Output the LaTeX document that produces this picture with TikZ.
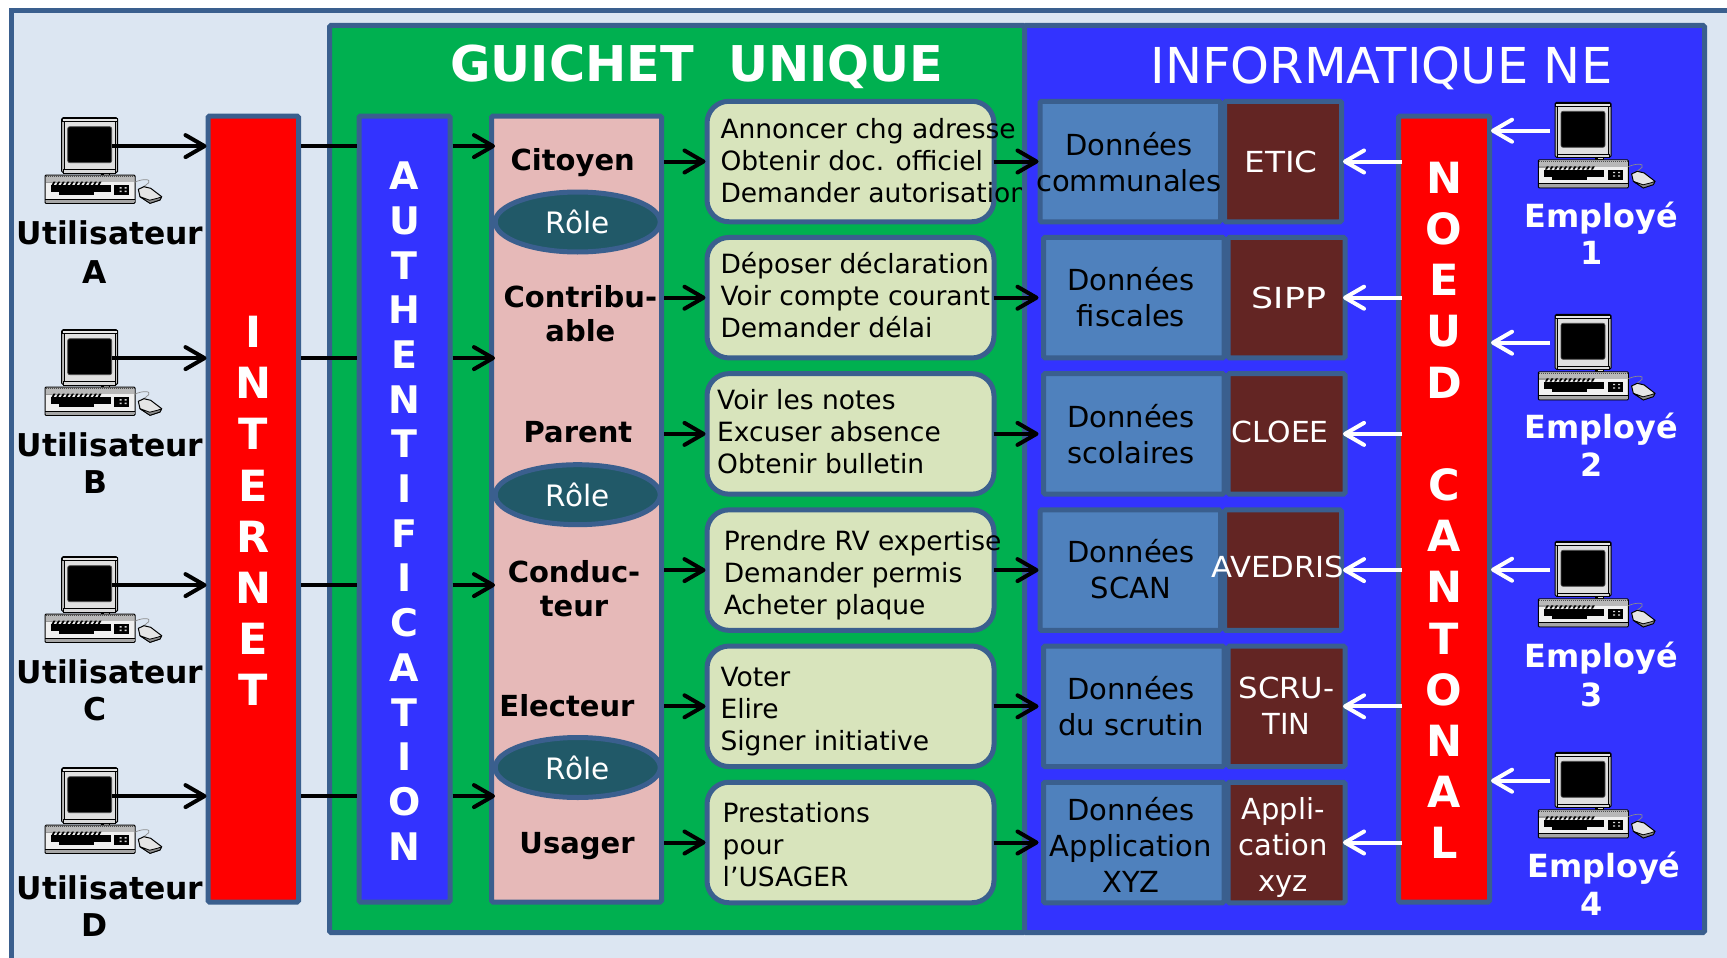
\documentclass[tikz,border=0pt]{standalone}
\usepackage{graphicx}
\usepackage{fontspec}
\setmainfont{DejaVu Sans}
\usetikzlibrary{arrows.meta,shapes.geometric,calc}
\definecolor{bd}{HTML}{3A5F8E}
\definecolor{pagebg}{HTML}{DCE6F2}
\definecolor{gr}{HTML}{00B050}
\definecolor{bl}{HTML}{3333FF}
\definecolor{pinkc}{HTML}{E6B9B8}
\definecolor{palec}{HTML}{D8E4BC}
\definecolor{steel}{HTML}{4F81BD}
\definecolor{brownc}{HTML}{632523}
\definecolor{tealc}{HTML}{215968}
\newcommand{\fs}[2]{\fontsize{#1}{#2}\selectfont}
\tikzset{
  x=1pt,y=-1pt,
  panel/.style={draw=bd,line width=5pt,inner sep=0pt,rounded corners=1.5pt},
  col/.style={panel,minimum height=786pt},
  coltxt/.style={inner sep=0pt,align=center,text=white,font=\fs{43}{51.2}\bfseries},
  actbox/.style={panel,fill=palec,minimum width=287pt,minimum height=120.5pt,rounded corners=22pt},
  actxt/.style={anchor=west,align=left,inner sep=0pt,font=\fs{26.5}{32}},
  dleft/.style={panel,fill=steel,minimum width=180.5pt,minimum height=120.5pt},
  dright/.style={panel,fill=brownc,minimum width=117pt,minimum height=120.5pt},
  dtxt/.style={align=center,inner sep=0pt,font=\fs{29}{36}},
  wtxt/.style={dtxt,text=white},
  roletxt/.style={align=center,inner sep=0pt,font=\fs{29}{34}\bfseries},
  roleell/.style={ellipse,draw=bd,line width=5pt,fill=tealc,minimum width=165pt,minimum height=60pt,inner sep=0pt,text=white,font=\fs{29.5}{34}},
  who/.style={inner sep=0pt,font=\fs{31.4}{38}\bfseries},
  emp/.style={inner sep=0pt,text=white,font=\fs{31.9}{36}\bfseries},
  arr/.style={line width=4pt,-{Straight Barb[length=19pt,width=22pt,round]},shorten >=-1pt},
  warr/.style={arr,draw=white},
  plain/.style={line width=4pt},
  computer/.pic={
    % monitor
    \draw[line width=1pt,fill=black!25,rounded corners=1.5pt] (0,0) rectangle (56,55);
    \draw[line width=0.6pt,fill=white!90!black] (0.7,0.7) rectangle (55.3,4);
    \draw[line width=0.5pt,fill=black!12] (2.5,4) rectangle (53.5,52);
    \node[fill=black,draw=black!70,line width=0.7pt,rounded corners=2pt,minimum width=44pt,minimum height=36pt,inner sep=0pt] (-screen) at (28,27) {};
    \draw[line width=0.8pt,fill=black!15] (2,52) rectangle (54,55.5);
    \fill[black] (39.5,55.3) rectangle (42,57.5);
    \draw[line width=0.8pt,fill=black!15] (42,55.3) rectangle (48,57.5);
    \coordinate (-out) at (50,28.4);
    \coordinate (-left) at (-5,28.4);
    % keyboard
    \draw[line width=1pt,fill=black!6,rounded corners=1pt] (-16.7,57.5) rectangle (73.3,85.6);
    \fill[black!28] (-16,58.5) rectangle (72.6,64.5);
    \draw[line width=0.4pt,black!70,dash pattern=on 1pt off 1pt] (-16,58.6) -- (72.6,58.6);
    \fill[black!40] (-16,64) rectangle (38,65.5);
    \foreach \k in {0,...,10}{\fill[black] ({-10+4.6*\k},67.2) -- ++(1.8,-3.2) -- ++(2,0) -- ++(-1.8,3.2) -- cycle;}
    \fill[black] (-11,67.2) rectangle (49,74.6);
    \fill[black] (-3,74.6) rectangle (32,77.6);
    \fill[black] (52.6,67.2) rectangle (67.6,77.6);
    \fill[white!85!black] (58,69.5) rectangle (60,70.8) (63,69.5) rectangle (65,70.8) (58,73) rectangle (60,74.3) (63,73) rectangle (65,74.3);
    \draw[line width=1pt] (-16.7,81.6) -- (73.3,81.6);
    \fill[black!35] (-16,82.1) rectangle (72.6,84.8);
    % cable and mouse
    \draw[line width=0.7pt,black!45] (73.3,64.5) .. controls (80,61) and (90,61) .. (87,65) .. controls (86,67) and (83,67.5) .. (81,69.5);
    \draw[line width=1pt,fill=black!10,line join=round] (76.6,71.6) -- (82.3,69) -- (89,70.6) -- (100,79) -- (98.3,82.3) -- (88.3,85.6) -- (78.3,79) -- cycle;
    \draw[line width=0.8pt,fill=black!45,line join=round] (78.3,79) -- (88.3,85.6) -- (98.3,82.3) -- (100,79) -- (96,80.5) -- (88,82.5) -- cycle;
  }
}
\begin{document}
\begin{tikzpicture}
\useasboundingbox (0,0) rectangle (1727,958);
\fill[white] (0,0) rectangle (1727,958);
% page panel, running off the right and bottom edges
\fill[pagebg] (11.5,10.5) rectangle (1727,958);
\draw[bd,line width=5pt] (11.5,958) -- (11.5,10.5) -- (1727,10.5);

% green panel
\node[panel,fill=gr,minimum width=695pt,minimum height=907pt] (guichet) at (677,479) {};
\node[inner sep=0pt,text=white,font=\fs{49.3}{50}\bfseries] (tguichet) at (697,66.5) {GUICHET\ \ UNIQUE};

% columns
\node[col,fill=red,minimum width=90.5pt] (internet) at (253.25,509) {};
\node[coltxt] (tinternet) at (253.25,511) {I\\N\\T\\E\\R\\N\\E\\T};
\node[col,fill=bl,minimum width=91pt] (auth) at (404.5,509) {};
\node[coltxt,font=\fs{38}{44.7}\bfseries] (tauth) at (404.5,511) {A\\U\\T\\H\\E\\N\\T\\I\\F\\I\\C\\A\\T\\I\\O\\N};
\node[col,fill=pinkc,minimum width=170pt] (roles) at (576.5,509) {};

% role names
\node[roletxt] (r1) at (572.7,163) {Citoyen};
\node[roletxt] (r2) at (580.4,314) {Contribu-\\able};
\node[roletxt] (r3) at (578,431.7) {Parent};
\node[roletxt] (r4) at (574,588.5) {Conduc-\\teur};
\node[roletxt] (r5) at (567,705.5) {Electeur};
\node[roletxt] (r6) at (577,845.8) {Usager};
\node[roleell] (e1) at (577.7,222) {Rôle};
\node[roleell] (e2) at (577.7,494.7) {Rôle};
\node[roleell] (e3) at (577.7,767.5) {Rôle};

% action boxes
\node[actbox] (a1) at (850.5,161.5) {};
\node[actbox] (a2) at (850.5,297.7) {};
\node[actbox] (a3) at (850.5,433.9) {};
\node[actbox] (a4) at (850.5,570.1) {};
\node[actbox] (a5) at (850.5,706.3) {};
\node[actbox] (a6) at (850.5,842.5) {};
\node[actxt] (t1) at (720.3,160.2) {Annoncer chg adresse\\Obtenir doc. officiel\\Demander autorisation};
\node[actxt] (t2) at (720.3,295.3) {Déposer déclaration\\Voir compte courant\\Demander délai};
\node[actxt] (t3) at (717,431.9) {Voir les notes\\Excuser absence\\Obtenir bulletin};
\node[actxt] (t4) at (723.6,574.9) {Prendre RV expertise\\Demander permis\\Acheter plaque};
\node[actxt] (t5) at (720.3,711.8) {Voter\\Elire\\Signer initiative};
\node[actxt] (t6) at (722.5,844.9) {Prestations\\pour\\l’USAGER};

% blue panel
\node[panel,fill=bl,minimum width=680pt,minimum height=907pt] (info) at (1364.5,479) {};
\node[inner sep=0pt,text=white,font=\fs{49.5}{50}] (tinfo) at (1381.5,68.2) {INFORMATIQUE NE};

% data boxes
\node[dleft]  (d1) at (1130.25,161.5) {};
\node[dright] (b1) at (1283,161.5) {};
\node[dleft]  (d2) at (1133.75,297.7) {};
\node[dright] (b2) at (1286.5,297.7) {};
\node[dleft]  (d3) at (1133.75,433.9) {};
\node[dright] (b3) at (1286.5,433.9) {};
\node[dleft]  (d4) at (1130.25,570.1) {};
\node[dright] (b4) at (1283,570.1) {};
\node[dleft]  (d5) at (1133.75,706.3) {};
\node[dright] (b5) at (1286.5,706.3) {};
\node[dleft]  (d6) at (1133.75,842.5) {};
\node[dright] (b6) at (1286.5,842.5) {};
\node[dtxt] (dt1) at (1129,162) {Données\\communales};
\node[dtxt] (dt2) at (1131,297.5) {Données\\fiscales};
\node[dtxt] (dt3) at (1131,434) {Données\\scolaires};
\node[dtxt] (dt4) at (1131,569.5) {Données\\SCAN};
\node[dtxt] (dt5) at (1131,706) {Données\\du scrutin};
\node[dtxt] (dt6) at (1131,845) {Données\\Application\\XYZ};
\node[wtxt] (bt1) at (1281,162) {\scalebox{1.13}[1]{ETIC}};
\node[wtxt] (bt2) at (1289,297.5) {\scalebox{1.2}[1]{SIPP}};
\node[wtxt] (bt3) at (1280,432) {\scalebox{1.03}[1]{CLOEE}};
\node[wtxt] (bt4) at (1277.6,567) {\scalebox{1.06}[1]{AVEDRIS}};
\node[wtxt] (bt5) at (1286.5,706) {\scalebox{1.06}[1]{SCRU-}\\TIN};
\node[wtxt] (bt6) at (1283,847.5) {Appli-\\cation\\xyz};

% noeud cantonal
\node[col,fill=red,minimum width=91pt] (noeud) at (1444,509) {};
\node[coltxt] (tnoeud) at (1444,510.5) {N\\O\\E\\U\\D\\\mbox{}\\C\\A\\N\\T\\O\\N\\A\\L};

% computers
\pic (pcA) at (61.7,117.7) {computer};
\pic (pcB) at (61.7,329.7) {computer};
\pic (pcC) at (61.7,556.7) {computer};
\pic (pcD) at (61.7,767.7) {computer};
\pic (pcE) at (1555,102.3) {computer};
\pic (pcF) at (1555,314.3) {computer};
\pic (pcG) at (1555,541.3) {computer};
\pic (pcH) at (1555,752.3) {computer};

\node[who] (uA) at (110,232.7) {Utilisateur};
\node[who] (lA) at (95,271.7) {A};
\node[who] (uB) at (110,445) {Utilisateur};
\node[who] (lB) at (95,482.5) {B};
\node[who] (uC) at (110,672) {Utilisateur};
\node[who] (lC) at (95,709) {C};
\node[who] (uD) at (110,888) {Utilisateur};
\node[who] (lD) at (95,925) {D};

\node[emp] (eE) at (1601.5,218) {Employé};
\node[emp] (nE) at (1591.5,253) {1};
\node[emp] (eF) at (1601.5,429) {Employé};
\node[emp] (nF) at (1591.5,465) {2};
\node[emp] (eG) at (1601.5,658) {Employé};
\node[emp] (nG) at (1591.5,695) {3};
\node[emp] (eH) at (1604,868) {Employé};
\node[emp] (nH) at (1591.5,904) {4};

% connectors: users to internet, through authentication, to roles
\foreach \p in {pcA,pcB,pcC,pcD}{
  \draw[arr] (\p-out) -- (\p-out -| internet.west);
  \draw[plain] (\p-out -| internet.east) -- (\p-out -| auth.west);
  \draw[arr,shorten >=-6pt] (\p-out -| auth.east) -- (\p-out -| roles.west);
}
% roles to actions to data
\foreach \i in {1,...,6}{
  \draw[arr] (a\i.west -| roles.east) -- (a\i.west);
  \draw[arr,shorten <=-3pt] (a\i.east) -- (a\i.east -| d1.west);
  \draw[warr,shorten <=-6pt] (b\i.east -| noeud.west) -- (b\i.east -| b1.east);
}
% employees to noeud
\foreach \p in {pcE,pcF,pcG,pcH}{
  \draw[warr] (\p-left) -- (\p-left -| noeud.east);
}
\end{tikzpicture}
\end{document}
